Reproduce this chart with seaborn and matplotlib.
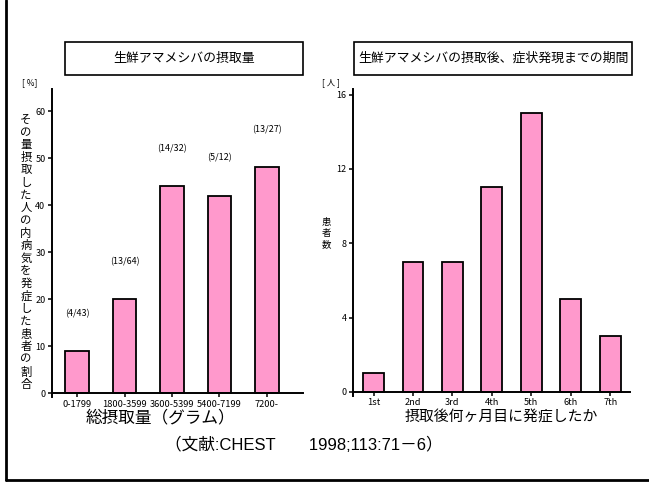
import matplotlib
matplotlib.use("Agg")
import matplotlib.pyplot as plt
from matplotlib.patches import Rectangle
from matplotlib.lines import Line2D
import pandas as pd
import seaborn as sns

# Left panel: intake amount vs. share of people who fell ill
intake_groups = ["0-1799", "1800-3599", "3600-5399", "5400-7199", "7200-"]
onset_rate = [9, 20, 44, 42, 48]
case_ratio = ["(4/43)", "(13/64)", "(14/32)", "(5/12)", "(13/27)"]
rate_ticks = [0, 10, 20, 30, 40, 50, 60]

# Right panel: months from intake to onset vs. number of patients
onset_months = ["1st", "2nd", "3rd", "4th", "5th", "6th", "7th"]
patient_counts = [1, 7, 7, 11, 15, 5, 3]
count_ticks = [0, 4, 8, 12, 16]

left_title = "生鮮アマメシバの摂取量"
right_title = "生鮮アマメシバの摂取後、症状発現までの期間"
left_ylabel = "その量摂取した人の内病気を発症した患者の割合"
right_ylabel = "患者数"
left_xlabel = "総摂取量（グラム）"
right_xlabel = "摂取後何ヶ月目に発症したか"
citation = "（文献:CHEST　　1998;113:71－6）"

sns.set_theme(style="ticks")
plt.rcParams["font.family"] = ["Noto Sans CJK JP", "DejaVu Sans"]

W, H = 649, 482
fig = plt.figure(figsize=(W / 100, H / 100), dpi=100)
fig.patch.set_facecolor("white")


def fx(px):
    return px / W


def fy(py):
    return 1 - py / H


PINK = "#FF99CC"

ax1 = fig.add_axes([fx(52), fy(397), fx(303) - fx(52), fy(89) - fy(397)])
ax2 = fig.add_axes([fx(353), fy(396), fx(630) - fx(353), fy(89) - fy(396)])

df1 = pd.DataFrame({"group": intake_groups, "rate": onset_rate})
df2 = pd.DataFrame({"month": onset_months, "count": patient_counts})

sns.barplot(data=df1, x="group", y="rate", ax=ax1, color=PINK, saturation=1,
            edgecolor="black", linewidth=1.3, width=0.5)
sns.barplot(data=df2, x="month", y="count", ax=ax2, color=PINK, saturation=1,
            edgecolor="black", linewidth=1.3, width=0.53)


def style(ax, ticks, ylim, xlim):
    ax.set_xlim(*xlim)
    ax.set_ylim(*ylim)
    ax.set_yticks(ticks)
    ax.set_xlabel("")
    ax.set_ylabel("")
    ax.set_facecolor("none")
    for s in ["top", "right"]:
        ax.spines[s].set_visible(False)
    ax.spines["bottom"].set_position(("data", 0))
    for s in ["left", "bottom"]:
        ax.spines[s].set_linewidth(1.4)
        ax.spines[s].set_color("black")
    ax.tick_params(axis="both", direction="out", length=3.2, width=1.1,
                   color="black", labelcolor="black", pad=1.5)
    ax.tick_params(axis="x", labelsize=6.7)
    ax.tick_params(axis="y", labelsize=6.5)


style(ax1, rate_ticks, (-0.85, 64.7), (-0.53, 4.76))
style(ax2, count_ticks, (-0.22, 16.3), (-0.52, 6.5))

# ratio labels above each bar
for i, (v, t) in enumerate(zip(onset_rate, case_ratio)):
    ax1.annotate(t, (i, v), xytext=(0, 27), textcoords="offset points",
                 ha="center", va="center", fontsize=6.5, color="black")

# title boxes
for (x0, x1, txt) in [(65, 303, left_title), (354, 632, right_title)]:
    fig.add_artist(Rectangle((fx(x0), fy(75)), fx(x1) - fx(x0), fy(42) - fy(75),
                             transform=fig.transFigure, facecolor="white",
                             edgecolor="black", linewidth=1.2))
    fig.text(fx((x0 + x1) / 2), fy(58.5), txt, ha="center", va="center",
             fontsize=9.3, color="black")

# units
fig.text(fx(30), fy(83), "[ %]", ha="center", va="center", fontsize=6, color="black")
fig.text(fx(331), fy(83), "[ 人 ]", ha="center", va="center", fontsize=6, color="black")

# vertical axis titles, one character per row
for i, ch in enumerate(left_ylabel):
    fig.text(fx(26), fy(120 + i * 12.6), ch, ha="center", va="center",
             fontsize=8.2, color="black")
for i, ch in enumerate(right_ylabel):
    fig.text(fx(326), fy(222.5 + i * 11), ch, ha="center", va="center",
             fontsize=6.8, color="black")

# horizontal axis titles
fig.text(fx(160), fy(418), left_xlabel, ha="center", va="center", fontsize=12, color="black")
fig.text(fx(501), fy(418), right_xlabel, ha="center", va="center", fontsize=10.7, color="black")

# source
fig.text(fx(304), fy(445), citation, ha="center", va="center", fontsize=12,
         color="black", family=["Liberation Sans", "Noto Sans CJK JP"])

# frame lines along the left and bottom edges
fig.add_artist(Line2D([fx(6), fx(6)], [fy(0), fy(480)], transform=fig.transFigure,
                      color="black", linewidth=2))
fig.add_artist(Line2D([fx(6), fx(649)], [fy(480), fy(480)], transform=fig.transFigure,
                      color="black", linewidth=2))

fig.savefig("out.png", dpi=100, facecolor="white")
